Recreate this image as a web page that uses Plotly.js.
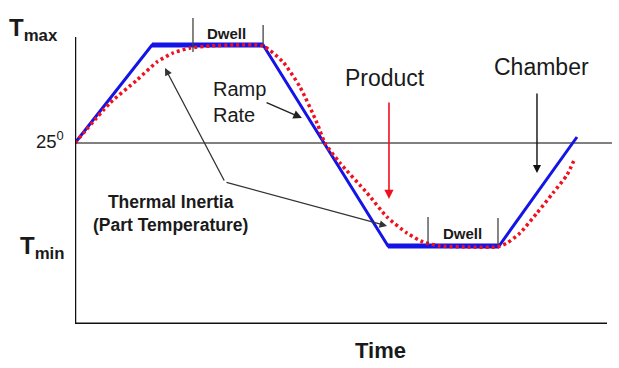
<!DOCTYPE html>
<html>
<head>
<meta charset="utf-8">
<script src="https://cdn.plot.ly/plotly-3.0.1.min.js"></script>
<style>html,body{margin:0;padding:0;background:#fff}#chart{width:619px;height:368px}</style>
</head>
<body>
<div id="chart"></div>
<script>
// Time (arbitrary units) and temperature (arbitrary units; 25 = room temperature)
const chamberTime = [0, 14.34, 35.03, 58.29, 78.96, 93.48];
const chamberTemp = [25, 123, 123, -78, -78, 31];

const productTime = [0, 6.52, 11.55, 15.27, 18.25, 21.42, 25.14, 29.80, 35.03, 38.73, 41.90, 45.07, 46.55, 49.35, 54.38, 58.10, 61.82, 64.80, 67.97, 73.56, 78.58, 80.45, 82.87, 86.03, 89.01, 91.62, 93.11];
const productTemp = [25, 65, 88, 106, 115, 120, 122, 123, 122, 106, 81, 45, 25, 5, -25, -49, -65, -74, -78, -79, -79, -75, -65, -45, -25, -7, 10];

const roomTemp = 25;

const FR = "Liberation Sans, Arial, sans-serif";
const INK = "#1a1a1a";
const BLUE = "#1414e6";
const RED = "#f0101e";

const traces = [
  {x: chamberTime, y: chamberTemp, mode: 'lines', line: {color: BLUE, width: 3}, hoverinfo: 'skip'},
  {x: chamberTime.slice(1, 3), y: chamberTemp.slice(1, 3), mode: 'lines', line: {color: BLUE, width: 5}, hoverinfo: 'skip'},
  {x: chamberTime.slice(3, 5), y: chamberTemp.slice(3, 5), mode: 'lines', line: {color: BLUE, width: 5}, hoverinfo: 'skip'},
  {x: productTime, y: productTemp, mode: 'lines', line: {color: RED, width: 3.5, dash: '3px,3px', shape: 'spline', smoothing: 0.6}, hoverinfo: 'skip'}
];

const tick = (x, y0, y1) => ({type: 'line', xref: 'x', yref: 'y', x0: x, x1: x, y0: y0, y1: y1, line: {color: '#444', width: 1.3}});
const arrow = (x, y, ax, ay, color, w) => ({xref: 'x', yref: 'y', axref: 'x', ayref: 'y', x: x, y: y, ax: ax, ay: ay, text: '', showarrow: true, arrowhead: 2, arrowsize: 1.15, arrowwidth: w, arrowcolor: color});

const layout = {
  width: 619, height: 368,
  margin: {l: 75, r: 7, t: 10, b: 44},
  paper_bgcolor: '#fff', plot_bgcolor: '#fff',
  showlegend: false,
  xaxis: {range: [0, 100], showgrid: false, zeroline: false, showticklabels: false, ticks: '', showline: false, fixedrange: true},
  yaxis: {range: [-156, 158], showgrid: false, zeroline: false, showticklabels: false, ticks: '', showline: false, fixedrange: true},
  shapes: [
    {type: 'line', xref: 'x', yref: 'y', x0: 0, x1: 100, y0: roomTemp, y1: roomTemp, line: {color: '#808080', width: 2}, layer: 'below'},
    {type: 'line', xref: 'x', yref: 'y', x0: 0, x1: 0, y0: -156, y1: 131, line: {color: '#111', width: 2.5}},
    {type: 'line', xref: 'x', yref: 'y', x0: 0, x1: 99.07, y0: -156, y1: -156, line: {color: '#111', width: 3}},
    tick(21.97, 150, 116),
    tick(35.03, 143, 123),
    tick(65.74, -49, -76),
    tick(78.77, -50, -77)
  ],
  annotations: [
    {xref: 'paper', yref: 'y', x: -0.0764, y: 139, text: '<b>T<sub>max</sub></b>', showarrow: false, font: {family: FR, size: 24, color: INK}, xanchor: 'center', yanchor: 'middle'},
    {xref: 'paper', yref: 'y', x: -0.0605, y: -79, text: '<b>T<sub>min</sub></b>', showarrow: false, font: {family: FR, size: 24, color: INK}, xanchor: 'center', yanchor: 'middle'},
    {xref: 'paper', yref: 'y', x: -0.047, y: 28, text: '25<sup>0</sup>', showarrow: false, font: {family: FR, size: 18.5, color: INK}, xanchor: 'center', yanchor: 'middle'},
    {xref: 'paper', yref: 'paper', x: 0.569, y: -0.083, text: '<b>Time</b>', showarrow: false, font: {family: FR, size: 22, color: INK}, xanchor: 'center', yanchor: 'middle'},
    {xref: 'x', yref: 'y', x: 28.3, y: 135, text: '<b>Dwell</b>', showarrow: false, font: {family: FR, size: 15, color: INK}, xanchor: 'center', yanchor: 'middle'},
    {xref: 'x', yref: 'y', x: 72.07, y: -65, text: '<b>Dwell</b>', showarrow: false, font: {family: FR, size: 15, color: INK}, xanchor: 'center', yanchor: 'middle'},
    {xref: 'x', yref: 'y', x: 25.3, y: 66, text: 'Ramp<br>Rate', align: 'left', showarrow: false, font: {family: FR, size: 20, color: INK}, xanchor: 'left', yanchor: 'middle'},
    {xref: 'x', yref: 'y', x: 57.7, y: 90, text: 'Product', showarrow: false, font: {family: FR, size: 23, color: INK}, xanchor: 'center', yanchor: 'middle'},
    {xref: 'x', yref: 'y', x: 86.8, y: 101, text: 'Chamber', showarrow: false, font: {family: FR, size: 23, color: INK}, xanchor: 'center', yanchor: 'middle'},
    {xref: 'x', yref: 'y', x: 17.7, y: -45, text: '<b>Thermal Inertia</b><br><b>(Part Temperature)</b>', showarrow: false, font: {family: FR, size: 17.5, color: INK}, xanchor: 'center', yanchor: 'middle'},
    arrow(16.76, 100, 27.93, -14, '#333', 1.3),
    arrow(58.10, -58, 27.93, -14, '#333', 1.3),
    arrow(42.27, 50, 35.4, 66, '#222', 1.5),
    arrow(58.47, -31, 58.47, 67, RED, 1.6),
    arrow(86.03, -5, 86.03, 76, '#111', 1.4)
  ]
};

Plotly.newPlot('chart', traces, layout, {displayModeBar: false, staticPlot: true});
</script>
</body>
</html>
